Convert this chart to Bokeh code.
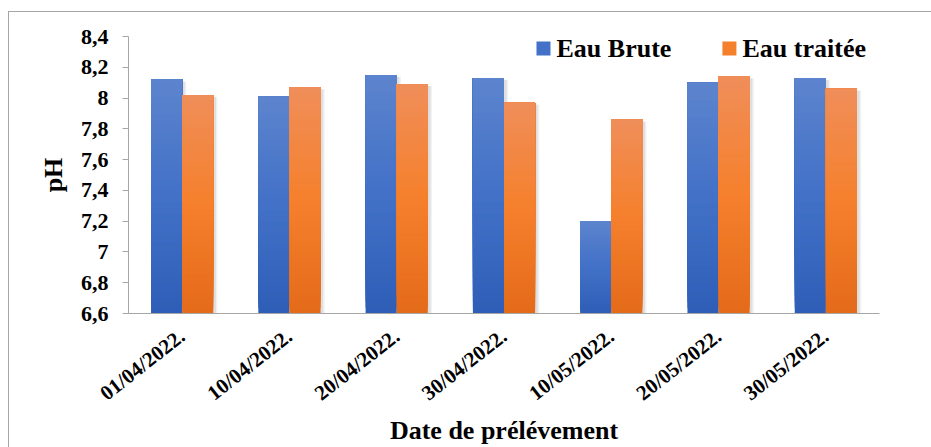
import math
from bokeh.plotting import figure
from bokeh.models import (FactorRange, Range1d, FixedTicker, ColumnDataSource, Label)
from bokeh.transform import dodge
from bokeh.embed import file_html
from bokeh.resources import INLINE

# ---------------- data ----------------
dates = ["01/04/2022.", "10/04/2022.", "20/04/2022.", "30/04/2022.",
         "10/05/2022.", "20/05/2022.", "30/05/2022."]
eau_brute = [8.12, 8.01, 8.15, 8.13, 7.20, 8.10, 8.13]
eau_traitee = [8.02, 8.07, 8.09, 7.97, 7.86, 8.14, 8.06]
series_names = ["Eau Brute", "Eau traitée"]
y_ticks = [6.6, 6.8, 7.0, 7.2, 7.4, 7.6, 7.8, 8.0, 8.2, 8.4]
y_min, y_max = 6.6, 8.4
x_title = "Date de prélévement"
y_title = "pH"

# ---------------- style ----------------
FONT = "Liberation Serif"
AXIS_GREY = "#A6A6A6"
BAR_W = 0.29
OFFS = 0.145
N_SLICES = 40
# gradient stops: bottom, middle, top
GRAD = {
    "Eau Brute": [(46, 94, 183), (66, 113, 199), (93, 132, 206)],
    "Eau traitée": [(228, 106, 26), (245, 128, 44), (240, 142, 90)],
}
# legend layout: marker x in category units, y in pH units; text in frame pixels
LEG_MARK_X = [3.868, 5.601]
LEG_MARK_Y = 8.322
LEG_TEXT_SX = [428, 614]
LEG_TEXT_SY = 265


def grad_color(stops, t):
    if t <= 0.5:
        a, b, u = stops[0], stops[1], t / 0.5
    else:
        a, b, u = stops[1], stops[2], (t - 0.5) / 0.5
    c = [round(a[i] + (b[i] - a[i]) * u) for i in range(3)]
    return "#%02x%02x%02x" % tuple(c)


def tick_label(v):
    s = ("%.1f" % v).rstrip("0").rstrip(".")
    return s.replace(".", ",")


p = figure(x_range=FactorRange(*dates), y_range=Range1d(y_min, y_max),
           width=922, height=435, output_backend="svg", toolbar_location=None,
           min_border_left=119, min_border_right=52, min_border_top=24,
           min_border_bottom=134)
p.margin = (12, 0, 0, 9)
p.styles = {"outline": "1px solid " + AXIS_GREY}
p.outline_line_color = None
p.xgrid.grid_line_color = None
p.ygrid.grid_line_color = None
p.background_fill_color = "white"
p.border_fill_color = "white"

offsets = [-OFFS, OFFS]
values = [eau_brute, eau_traitee]

# soft drop shadows
for vals, off in zip(values, offsets):
    src = ColumnDataSource(dict(x=dates, top=[v - 0.012 for v in vals]))
    for dx, alpha in [(0.035, 0.05), (0.02, 0.08)]:
        p.vbar(x=dodge("x", off + dx, range=p.x_range), top="top", bottom=y_min - 0.01,
               width=BAR_W + 0.01, source=src, fill_color="black",
               fill_alpha=alpha, line_color=None)

# gradient bars: layered, each layer from its own bottom up to the bar's top
for name, vals, off in zip(series_names, values, offsets):
    xs, bots, tops, cols = [], [], [], []
    for k in range(N_SLICES):
        for d, v in zip(dates, vals):
            xs.append(d)
            bots.append(y_min + (v - y_min) * k / N_SLICES)
            tops.append(v)
            cols.append(grad_color(GRAD[name], (k + 0.5) / N_SLICES))
    src = ColumnDataSource(dict(x=xs, bottom=bots, top=tops, color=cols))
    p.vbar(x=dodge("x", off, range=p.x_range), top="top", bottom="bottom",
           width=BAR_W, source=src, fill_color="color", line_color=None)

# legend (drawn as marks + labels)
leg_cols = [grad_color(GRAD[n], 0.5) for n in series_names]
p.scatter(x=LEG_MARK_X, y=[LEG_MARK_Y] * 2, marker="square", size=14,
          fill_color=leg_cols, line_color=None)
for name, sx in zip(series_names, LEG_TEXT_SX):
    p.add_layout(Label(x=sx, y=LEG_TEXT_SY, x_units="screen", y_units="screen",
                       text=name, text_font=FONT, text_font_size="26px",
                       text_font_style="bold", text_color="black",
                       text_baseline="alphabetic", text_align="left"))

# axes
yax = p.yaxis[0]
yax.ticker = FixedTicker(ticks=y_ticks)
yax.major_label_overrides = {t: tick_label(t) for t in y_ticks}
yax.major_label_text_font = FONT
yax.major_label_text_font_size = "22px"
yax.major_label_text_font_style = "bold"
yax.major_label_text_color = "black"
yax.major_label_standoff = 14
yax.axis_line_color = AXIS_GREY
yax.major_tick_line_color = AXIS_GREY
yax.major_tick_out = 6
yax.major_tick_in = 0
yax.minor_tick_line_color = None
yax.axis_label = y_title
yax.axis_label_text_font = FONT
yax.axis_label_text_font_size = "26px"
yax.axis_label_text_font_style = "bold"
yax.axis_label_text_color = "black"
yax.axis_label_standoff = 10

xax = p.xaxis[0]
xax.axis_line_color = AXIS_GREY
xax.major_tick_line_color = None
xax.minor_tick_line_color = None
xax.major_label_orientation = math.radians(38)
xax.major_label_text_font = FONT
xax.major_label_text_font_size = "21px"
xax.major_label_text_font_style = "bold"
xax.major_label_text_color = "black"
xax.major_label_standoff = 14
xax.axis_label = x_title
xax.axis_label_text_font = FONT
xax.axis_label_text_font_size = "26px"
xax.axis_label_text_font_style = "bold"
xax.axis_label_text_color = "black"
xax.axis_label_standoff = -2

open("out.html", "w").write(file_html(p, INLINE))
